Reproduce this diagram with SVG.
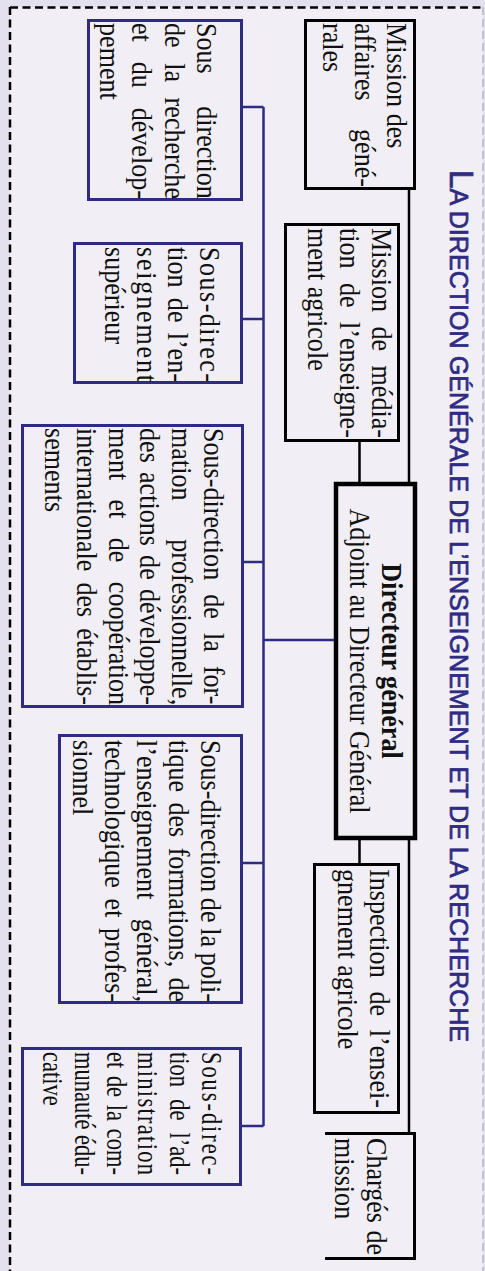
<svg xmlns="http://www.w3.org/2000/svg" width="485" height="1271" viewBox="0 0 485 1271">
<style>
.bk rect,.bk path{fill:none;stroke:#000;stroke-width:3}
.bl rect{fill:none;stroke:#2f2b85;stroke-width:3}
.dir rect{fill:none;stroke:#000;stroke-width:4.5}
.t{font-family:"Liberation Serif","Times New Roman",serif;font-size:29px;fill:#111}
.ck{fill:none;stroke:#000;stroke-width:2.5}
.cb{fill:none;stroke:#2f2b85;stroke-width:2.5}
.title{font-family:"Liberation Sans",Arial,sans-serif;fill:#2f2b85;stroke:#2f2b85;stroke-width:0.7}
</style>
<rect width="485" height="1271" fill="#e4e1ee"/>
<rect x="10" y="7" width="473" height="1264" fill="#f1eff5"/>
<path d="M10,7.5 H483" stroke="#000" stroke-width="2.5" stroke-dasharray="8 4.5" fill="none"/>
<path d="M10,7 V1271" stroke="#000" stroke-width="2.5" stroke-dasharray="8 4.5" fill="none"/>
<path d="M483,7 V1271" stroke="#b4b3bd" stroke-width="1.5" stroke-dasharray="8 4" fill="none"/>

<g id="title">
<text class="title" x="450" y="170" transform="rotate(90 450 170)" textLength="872" lengthAdjust="spacingAndGlyphs"><tspan font-size="33">L</tspan><tspan font-size="25">A DIRECTION GÉNÉRALE DE L’ENSEIGNEMENT ET DE LA RECHERCHE</tspan></text>
</g>

<g id="connectors">
<path class="ck" d="M409,190 V482 M359.5,442 V482 M359.5,840 V863 M409,840 V1132"/>
<path class="cb" d="M334,640 H263.5 M263.5,107 V1126 M243,107 H263.5 M243,319 H263.5 M244,562 H263.5 M243,863 H263.5 M242,1126 H263.5"/>
</g>

<g id="n1" class="bk" transform="translate(414.5 20.5) rotate(90)">
<rect width="168" height="109"/>
<g class="t" transform="scale(0.9 1)">
<text x="2.8" y="27.5">Mission des</text>
<text y="59.5"><tspan x="2.8">affaires</tspan><tspan x="120.6">géné-</tspan></text>
<text x="2.8" y="91.5">rales</text>
</g>
</g>

<g id="n2" class="bl" transform="translate(241.5 20.5) rotate(90)">
<rect width="179" height="153"/>
<g class="t" transform="scale(0.9 1)">
<text y="44.5"><tspan x="2.8">Sous</tspan><tspan x="95.2">direction</tspan></text>
<text y="77"><tspan x="2.8">de</tspan><tspan x="47.4">la</tspan><tspan x="85.7">recherche</tspan></text>
<text y="109.5"><tspan x="2.8">et</tspan><tspan x="45.8">du</tspan><tspan x="96.9">dévelop-</tspan></text>
<text x="2.8" y="142">pement</text>
</g>
</g>

<g id="n3" class="bk" transform="translate(398.5 224.5) rotate(90)">
<rect width="216" height="113"/>
<g class="t" transform="scale(0.9 1)">
<text y="26.5"><tspan x="3.9">Mission</tspan><tspan x="113.3">de</tspan><tspan x="156.7">média-</tspan></text>
<text y="58.5"><tspan x="3.9">tion</tspan><tspan x="65">de</tspan><tspan x="108.3">l’enseigne-</tspan></text>
<text x="3.9" y="90.5">ment agricole</text>
</g>
</g>

<g id="n4" class="dir" transform="translate(415 484) rotate(90)">
<rect width="354" height="79"/>
<g class="t" transform="scale(0.9 1)" text-anchor="middle">
<text x="196.7" y="33" font-weight="bold">Directeur général</text>
<text x="196.7" y="65">Adjoint au Directeur Général</text>
</g>
</g>

<g id="n5" class="bk" transform="translate(398.5 864.5) rotate(90)">
<rect width="248" height="84"/>
<g class="t" transform="scale(0.9 1)">
<text y="28.5"><tspan x="5">Inspection</tspan><tspan x="141">de</tspan><tspan x="183.6">l’ensei-</tspan></text>
<text x="5" y="60.5">gnement agricole</text>
</g>
</g>

<g id="n6" class="bk" transform="translate(414.5 1133.5) rotate(90)">
<path d="M0,89.5 V0 H125 V89.5"/>
<g class="t" transform="scale(0.9 1)">
<text y="47.5"><tspan x="5">Chargés</tspan><tspan x="107.7">de</tspan></text>
<text x="5" y="79.5">mission</text>
</g>
</g>

<g id="n7" class="bl" transform="translate(241.5 243.5) rotate(90)">
<rect width="139" height="167"/>
<g class="t" transform="scale(0.9 1)">
<text x="3.9" y="41.5" textLength="150" lengthAdjust="spacing">Sous-direc-</text>
<text y="73.5"><tspan x="3.9">tion</tspan><tspan x="60.4">de</tspan><tspan x="99.1">l’en-</tspan></text>
<text x="3.9" y="104.5" textLength="150" lengthAdjust="spacing">seignement</text>
<text x="3.9" y="136.5">supérieur</text>
</g>
</g>

<g id="n8" class="bl" transform="translate(242.5 425.5) rotate(90)">
<rect width="281" height="220"/>
<g class="t" transform="scale(0.9 1)">
<text y="38.5"><tspan x="2.8">Sous-direction</tspan><tspan x="187.6">de</tspan><tspan x="230.6">la</tspan><tspan x="267.1">for-</tspan></text>
<text y="70.3"><tspan x="2.8">mation</tspan><tspan x="126.4">professionnelle,</tspan></text>
<text y="102.1"><tspan x="2.8">des</tspan><tspan x="51.7">actions</tspan><tspan x="144">de</tspan><tspan x="181.7">développe-</tspan></text>
<text y="133.9"><tspan x="2.8">ment</tspan><tspan x="82.3">et</tspan><tspan x="124.8">de</tspan><tspan x="173.7">coopération</tspan></text>
<text y="165.7"><tspan x="2.8">internationale</tspan><tspan x="174.4">des</tspan><tspan x="225.2">établis-</tspan></text>
<text x="2.8" y="197.5">sements</text>
</g>
</g>

<g id="n9" class="bl" transform="translate(241.5 735.5) rotate(90)">
<rect width="267" height="182"/>
<g class="t" transform="scale(0.9 1)">
<text y="41"><tspan x="5">Sous-direction</tspan><tspan x="180.4">de</tspan><tspan x="214.1">la</tspan><tspan x="241.3">poli-</tspan></text>
<text y="73"><tspan x="5">tique</tspan><tspan x="74.4">des</tspan><tspan x="124.6">formations,</tspan><tspan x="268.8">de</tspan></text>
<text y="105"><tspan x="5">l’enseignement</tspan><tspan x="203.6">général,</tspan></text>
<text y="137"><tspan x="5">technologique</tspan><tspan x="181.2">et</tspan><tspan x="214">profes-</tspan></text>
<text x="5" y="169">sionnel</text>
</g>
</g>

<g id="n10" class="bl" transform="translate(240.5 1048.5) rotate(90)">
<rect width="136" height="218"/>
<g class="t" transform="scale(0.7759 1)">
<text x="4.5" y="38.5" textLength="158.5" lengthAdjust="spacing">Sous-direc-</text>
<text y="70.3"><tspan x="4.5">tion</tspan><tspan x="65.3">de</tspan><tspan x="108.3">l’ad-</tspan></text>
<text x="4.5" y="102.1" textLength="158.5" lengthAdjust="spacing">ministration</text>
<text y="133.9"><tspan x="4.5">et</tspan><tspan x="35.3">de</tspan><tspan x="72.6">la</tspan><tspan x="103.5">com-</tspan></text>
<text y="165.7"><tspan x="4.5">munauté</tspan><tspan x="111.5">édu-</tspan></text>
<text x="4.5" y="197.5">cative</text>
</g>
</g>
</svg>
